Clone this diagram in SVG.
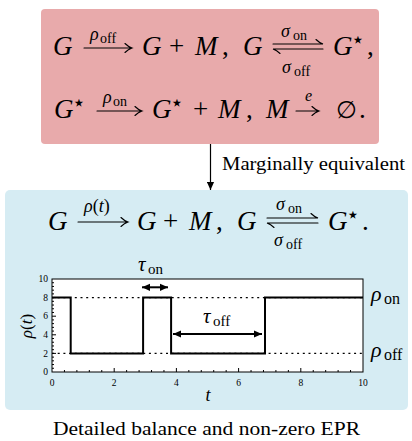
<svg xmlns="http://www.w3.org/2000/svg" width="412" height="441" viewBox="0 0 412 441">
<style>
text{font-family:'Liberation Serif','DejaVu Serif',serif;fill:#000}
.m{font-style:italic;font-size:27px}
.r{font-style:normal;font-size:27px}
.lab{font-style:italic;font-size:18px}
.sub{font-style:normal;font-size:14px}
.star{font-family:'DejaVu Sans',sans-serif;font-size:22px}
.txt{font-size:18px}
.tick{font-size:9.5px}
.ar{fill:none;stroke:#000;stroke-width:1.1;stroke-linecap:round}
.ax{fill:none;stroke:#000;stroke-width:1}
.dot{fill:none;stroke:#000;stroke-width:1.3;stroke-dasharray:2 3.7}
.dbl{stroke:#000;stroke-width:2}
</style>
<defs>
<marker id="tri" viewBox="0 0 10 10" refX="10" refY="5" markerWidth="8" markerHeight="8" markerUnits="userSpaceOnUse" orient="auto-start-reverse">
<path d="M0,0.5 L10,5 L0,9.5 z" fill="#000"/>
</marker>
</defs>

<g id="node-full-model">
<rect x="41" y="9" width="338" height="135" rx="4" fill="#E8AAAB"/>
<text class="m" x="53" y="55">G</text>
<path class="ar" d="M84,48 H132 M125,43.5 C128,46.5 130.5,47.5 132,48 C130.5,48.5 128,49.5 125,52.5"/>
<text class="lab" x="90" y="40">ρ</text><text class="sub" x="100" y="43">off</text>
<text class="m" x="142" y="55">G</text>
<text class="r" x="169" y="55">+</text>
<text class="m" x="195" y="55">M</text>
<text class="r" x="222" y="55">,</text>
<text class="m" x="243" y="55">G</text>
<path class="ar" d="M273,44 H323 C321.5,43.5 319,42.5 316,39.5 M323,49 H273 C274.5,49.5 277,50.5 280,53.5"/>
<text class="lab" x="281" y="37">σ</text><text class="sub" x="293" y="40">on</text>
<text class="lab" x="282" y="73">σ</text><text class="sub" x="294" y="76">off</text>
<text class="m" x="333" y="55">G</text><text class="star" x="351" y="47">⋆</text>
<text class="r" x="367" y="55">,</text>
<text class="m" x="54" y="118">G</text><text class="star" x="72" y="110">⋆</text>
<path class="ar" d="M97,111 H142 M135,106.5 C138,109.5 140.5,110.5 142,111 C140.5,111.5 138,112.5 135,115.5"/>
<text class="lab" x="103" y="103">ρ</text><text class="sub" x="113" y="106">on</text>
<text class="m" x="152" y="118">G</text><text class="star" x="170" y="110">⋆</text>
<text class="r" x="193" y="118">+</text>
<text class="m" x="218" y="118">M</text>
<text class="r" x="246" y="118">,</text>
<text class="m" x="266" y="118">M</text>
<path class="ar" d="M296,111 H319 M312,106.5 C315,109.5 317.5,110.5 319,111 C317.5,111.5 315,112.5 312,115.5"/>
<text class="lab" x="305" y="101" style="font-size:16px">e</text>
<text class="r" x="336" y="118" style="font-size:24px">∅</text>
<text class="r" x="359" y="118">.</text>
</g>

<g id="connectors">
<line x1="210.5" y1="144" x2="210.5" y2="190" stroke="#000" stroke-width="1.2" marker-end="url(#tri)"/>
<text class="txt" x="222" y="170" textLength="183" lengthAdjust="spacingAndGlyphs">Marginally equivalent</text>
</g>

<g id="node-reduced-model">
<rect x="5" y="190" width="403" height="220" rx="5" fill="#D6ECF3"/>
<text class="m" x="48" y="230">G</text>
<path class="ar" d="M78,222 H128 M121,217.5 C124,220.5 126.5,221.5 128,222 C126.5,222.5 124,223.5 121,226.5"/>
<text class="lab" x="84" y="212">ρ<tspan style="font-style:normal">(</tspan>t<tspan style="font-style:normal">)</tspan></text>
<text class="m" x="137" y="230">G</text>
<text class="r" x="163" y="230">+</text>
<text class="m" x="189" y="230">M</text>
<text class="r" x="216" y="230">,</text>
<text class="m" x="237" y="230">G</text>
<path class="ar" d="M267,218 H318 C316.5,217.5 314,216.5 311,213.5 M318,223 H267 C268.5,223.5 271,224.5 274,227.5"/>
<text class="lab" x="276" y="210">σ</text><text class="sub" x="288" y="213">on</text>
<text class="lab" x="274" y="246">σ</text><text class="sub" x="286" y="249">off</text>
<text class="m" x="328" y="230">G</text><text class="star" x="346" y="222">⋆</text>
<text class="r" x="362" y="230">.</text>

<rect x="52" y="279" width="311" height="93" fill="#fff"/>
<path class="dot" d="M52,297.6 H363 M52,353.4 H363"/>
<path fill="none" stroke="#000" stroke-width="2" d="M52,297.6 H70.7 V353.4 H143.1 V297.6 H171.1 V353.4 H265 V297.6 H363"/>
<rect class="ax" x="52" y="279" width="311" height="93"/>
<path class="ax" stroke-width="0.8" d="M64.44,372v-2M76.88,372v-2M89.32,372v-2M101.76,372v-2M126.64,372v-2M139.08,372v-2M151.52,372v-2M163.96,372v-2M188.84,372v-2M201.28,372v-2M213.72,372v-2M226.16,372v-2M251.04,372v-2M263.48,372v-2M275.92,372v-2M288.36,372v-2M313.24,372v-2M325.68,372v-2M338.12,372v-2M350.56,372v-2
M114.2,372v-4M176.4,372v-4M238.6,372v-4M300.8,372v-4
M52,368.28h2M52,364.56h2M52,360.84h2M52,357.12h2M52,349.68h2M52,345.96h2M52,342.24h2M52,338.52h2M52,331.08h2M52,327.36h2M52,323.64h2M52,319.92h2M52,312.48h2M52,308.76h2M52,305.04h2M52,301.32h2M52,293.88h2M52,290.16h2M52,286.44h2M52,282.72h2
M52,353.4h4M52,334.8h4M52,316.2h4M52,297.6h4"/>
<g class="tick" text-anchor="middle">
<text x="52" y="386">0</text><text x="114.2" y="386">2</text><text x="176.4" y="386">4</text><text x="238.6" y="386">6</text><text x="300.8" y="386">8</text><text x="363" y="386">10</text>
</g>
<g class="tick" text-anchor="end">
<text x="48" y="375">0</text><text x="48" y="356.6">2</text><text x="48" y="338">4</text><text x="48" y="319.4">6</text><text x="48" y="300.8">8</text><text x="48" y="282.2">10</text>
</g>
<text class="lab" transform="translate(32,326) rotate(-90)" text-anchor="middle" style="font-size:17px">ρ<tspan style="font-style:normal">(</tspan>t<tspan style="font-style:normal">)</tspan></text>
<text class="lab" x="208" y="401" text-anchor="middle" style="font-size:18px">t</text>
<text class="lab" x="371" y="301" style="font-size:22px">ρ</text><text class="sub" x="384" y="304" style="font-size:16px">on</text>
<text class="lab" x="371" y="357" style="font-size:22px">ρ</text><text class="sub" x="384" y="360" style="font-size:16px">off</text>
<line class="dbl" x1="142" y1="287.3" x2="168" y2="287.3" marker-start="url(#tri)" marker-end="url(#tri)"/>
<text class="lab" x="138" y="271" style="font-size:21px">τ</text><text class="sub" x="148" y="274" style="font-size:15px">on</text>
<line class="dbl" x1="173" y1="334" x2="262" y2="334" marker-start="url(#tri)" marker-end="url(#tri)"/>
<text class="lab" x="203" y="323" style="font-size:21px">τ</text><text class="sub" x="213" y="326" style="font-size:15px">off</text>
</g>

<text class="txt" x="53" y="435" textLength="307" lengthAdjust="spacingAndGlyphs">Detailed balance and non-zero EPR</text>
</svg>
